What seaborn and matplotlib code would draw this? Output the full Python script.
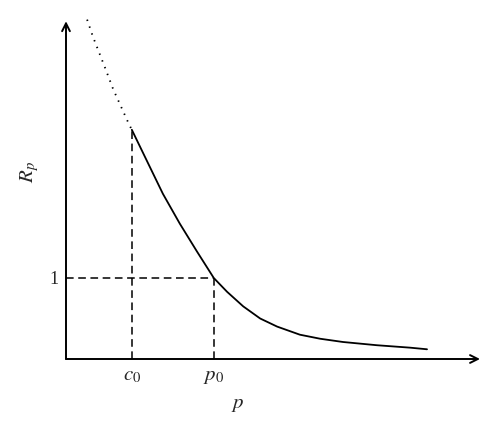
import matplotlib
matplotlib.use("Agg")
import numpy as np
import pandas as pd
import matplotlib.pyplot as plt
import seaborn as sns

# curve (p, R_p)
p_dotted = [0.51, 0.65, 0.94, 1.14, 1.52, 1.59]
r_dotted = [4.19, 3.98, 3.60, 3.33, 2.90, 2.83]
p_solid = [1.59, 1.96, 2.34, 2.75, 3.16, 3.57, 3.89, 4.28, 4.69, 5.10,
           5.65, 6.14, 6.69, 7.51, 8.31, 8.72]
r_solid = [2.83, 2.44, 2.04, 1.67, 1.33, 1.00, 0.83, 0.65, 0.50, 0.40,
           0.30, 0.25, 0.21, 0.17, 0.14, 0.12]

c0 = 1.59
p0 = 3.57
r_c0 = 2.83
x_end = 10.0
y_end = 4.17

sns.set_style("white")
plt.rcParams["mathtext.fontset"] = "stix"
plt.rcParams["font.family"] = ["Liberation Serif", "DejaVu Serif"]

fig = plt.figure(figsize=(5, 4.31), dpi=100)
ax = fig.add_axes([0, 0, 1, 1])
# map data so origin sits at pixel (66, 360)
sx, sy = 41.4, 81.0
ax.set_xlim(-66 / sx, (500 - 66) / sx)
ax.set_ylim(-(431 - 360) / sy, 360 / sy)
ax.axis("off")

solid = pd.DataFrame({"p": p_solid, "R": r_solid})
dotted = pd.DataFrame({"p": p_dotted, "R": r_dotted})
sns.lineplot(data=solid, x="p", y="R", color="black", lw=1.3, ax=ax,
             sort=False, estimator=None)
sns.lineplot(data=dotted, x="p", y="R", color="black", lw=1.3, ax=ax,
             sort=False, estimator=None, linestyle=(0, (0.8, 3.2)))

# axes with arrow heads
arrow = dict(arrowstyle="->", color="black", lw=1.4, mutation_scale=14,
             shrinkA=0, shrinkB=0)
ax.annotate("", xy=(x_end, 0), xytext=(0, 0), arrowprops=arrow)
ax.annotate("", xy=(0, y_end), xytext=(0, 0), arrowprops=arrow)

# dashed guide lines
dash = dict(color="black", lw=1.1, linestyle=(0, (5, 3)))
ax.plot([c0, c0], [0, r_c0], **dash)
ax.plot([p0, p0], [0, 1], **dash)
ax.plot([0, p0], [1, 1], **dash)

ax.text(-0.17, 1, "1", ha="right", va="center", fontsize=13)
ax.text(c0, -0.2, "$c_0$", ha="center", va="center", fontsize=15)
ax.text(p0, -0.2, "$p_0$", ha="center", va="center", fontsize=15)
ax.text(4.15, -0.55, "$p$", ha="center", va="center", fontsize=15)
ax.text(-0.89, 2.32, "$R_p$", ha="center", va="center", rotation=90,
        fontsize=15)

fig.savefig("out.png", dpi=100)
